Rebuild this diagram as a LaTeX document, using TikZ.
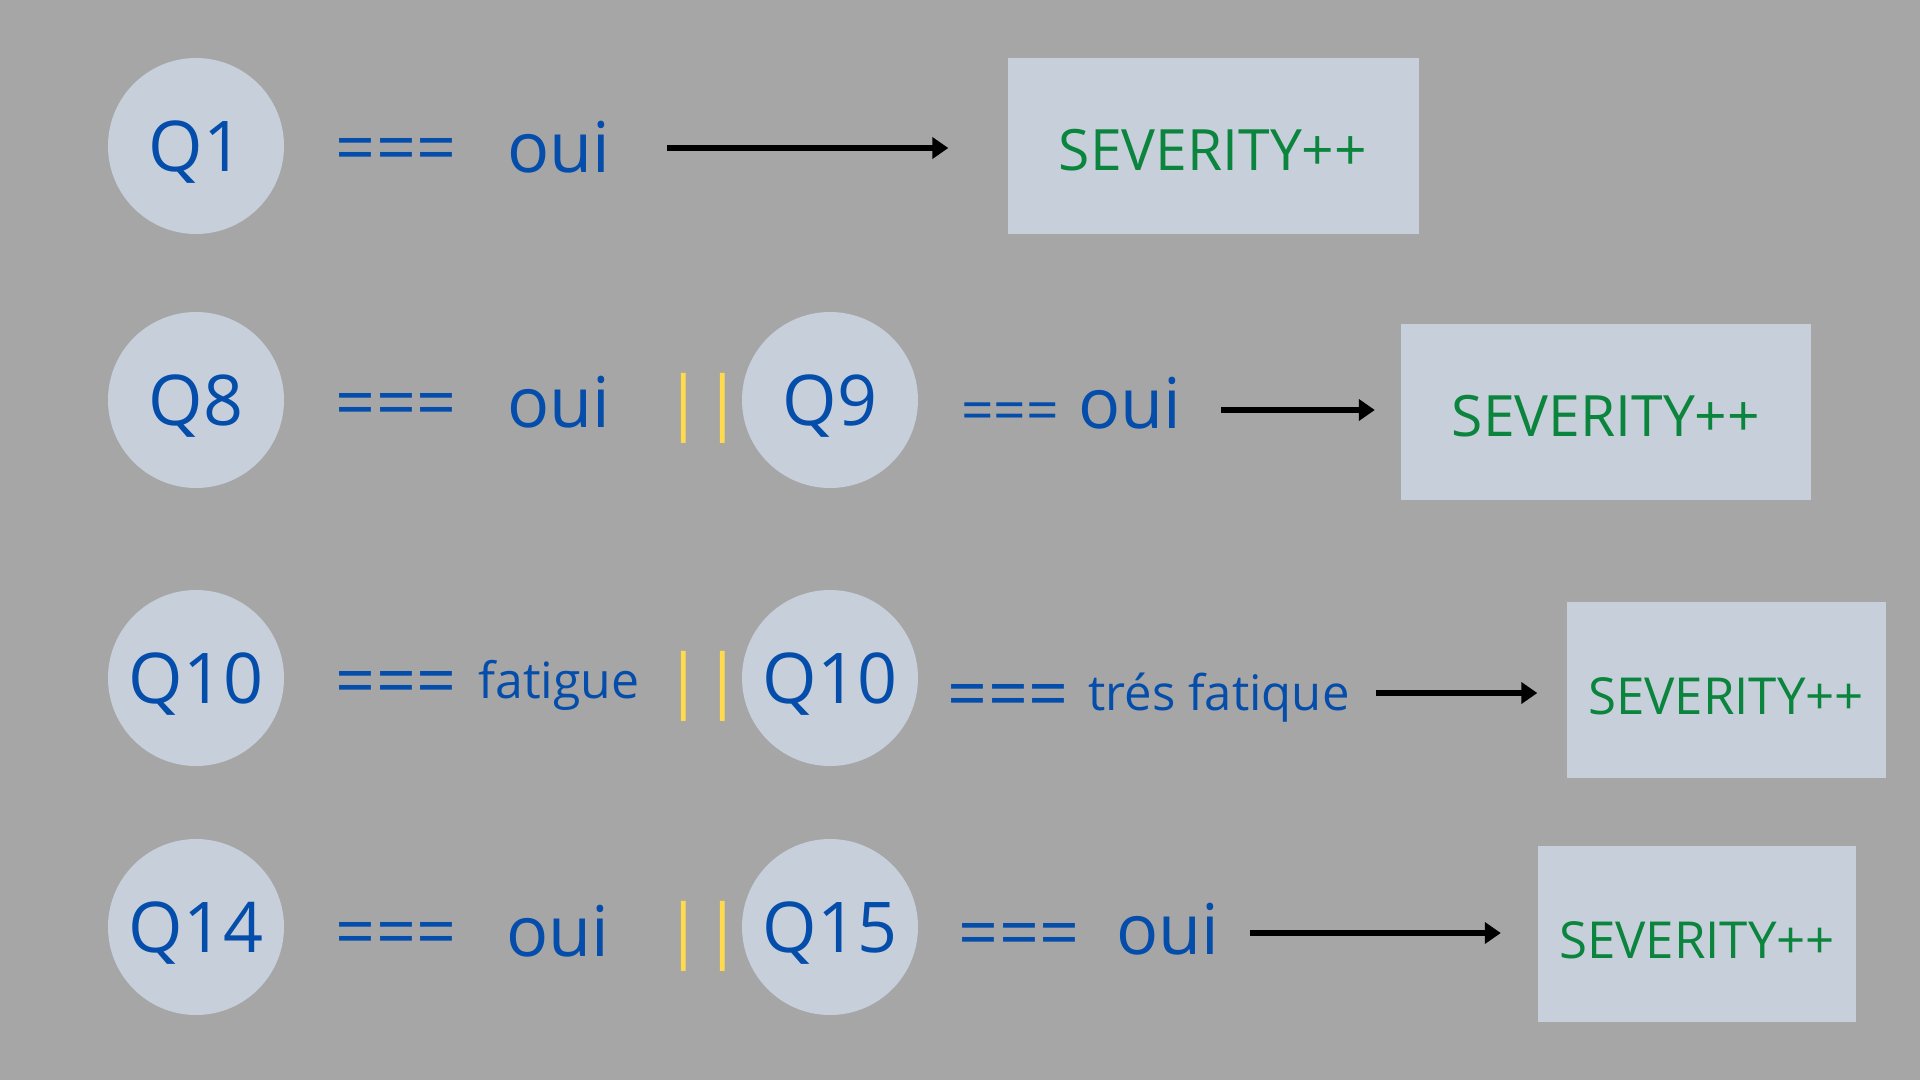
\documentclass[tikz,border=0pt]{standalone}
\usepackage{fontspec}
\setmainfont{Open Sans}
\usetikzlibrary{arrows.meta,positioning}
\usepackage{xcolor}

\definecolor{bggray}{HTML}{A6A6A6}
\definecolor{paleblue}{HTML}{C7D0DA}
\definecolor{qblue}{HTML}{044DAA}
\definecolor{sevgreen}{HTML}{0B843E}
\definecolor{orgold}{HTML}{FFDA4F}

\newcommand{\fbig}{\fontsize{70}{84}\selectfont}
\newcommand{\fsev}{\fontsize{57}{68}\selectfont}
\newcommand{\fsevs}{\fontsize{51}{61}\selectfont}

\begin{document}
\begin{tikzpicture}[
    x=1pt, y=-1pt,
    qcirc/.style={circle, fill=paleblue, minimum size=176pt, inner sep=0pt, text=qblue, font=\fbig, text height=50pt, text depth=0pt},
    eqtxt/.style={anchor=base, inner sep=0pt, text=qblue, font=\fbig},
    answer/.style={anchor=base, inner sep=0pt, text=qblue, font=\fbig},
    orbar/.style={anchor=base, inner sep=0pt, text=orgold, font=\fbig},
    sevbox/.style={rectangle, fill=paleblue, inner sep=0pt, minimum height=176pt, text=sevgreen, text height=48pt, text depth=0pt},
    arrow/.style={-{Triangle[length=16pt,width=21pt]}, line width=5.5pt, black}
]

\fill[bggray] (0,0) rectangle (1920,1080);

% row 1
\node[qcirc] (q1) at (196,146) {Q1};
\node[eqtxt] (eq1) at (396,172) {===};
\node[answer] (oui1) at (559,172) {oui};
\node[sevbox, minimum width=411pt, font=\fsev] (sev1) at (1213,146) {SEVERITY++};
\coordinate (a1) at (667,148);
\draw[arrow, shorten >=59pt] (a1) -- (a1 -| sev1.west);

% row 2
\node[qcirc] (q8) at (196,400) {Q8};
\node[eqtxt] (eq8) at (396,427) {===};
\node[answer] (oui8) at (559,427) {oui};
\node[orbar] (or8) at (703,426) {||};
\node[qcirc] (q9) at (830,400) {Q9};
\node[eqtxt, font=\fontsize{57}{68}\selectfont] (eq9) at (1010,430) {===};
\node[answer] (oui9) at (1130,428) {oui};
\node[sevbox, minimum width=410pt, font=\fsev] (sev2) at (1606,412) {SEVERITY++};
\coordinate (a2) at (1221,410);
\draw[arrow, shorten >=26pt] (a2) -- (a2 -| sev2.west);

% row 3
\node[qcirc] (q10) at (196,678) {Q10};
\node[eqtxt] (eq10) at (396,705) {===};
\node[answer, font=\fontsize{50}{60}\selectfont] (fat10) at (559,698) {fatigue};
\node[orbar] (or10) at (703,704) {||};
\node[qcirc] (q10b) at (830,678) {Q10};
\node[eqtxt] (eq10b) at (1008,718) {===};
\node[answer, font=\fontsize{49}{59}\selectfont] (fat10b) at (1219,710) {trés fatique};
\node[sevbox, minimum width=319pt, font=\fsevs] (sev3) at (1726,690) {SEVERITY++};
\coordinate (a3) at (1376,693);
\draw[arrow, shorten >=29pt] (a3) -- (a3 -| sev3.west);

% row 4
\node[qcirc] (q14) at (196,927) {Q14};
\node[eqtxt] (eq14) at (396,956) {===};
\node[answer] (oui14) at (558,956) {oui};
\node[orbar] (or14) at (703,954) {||};
\node[qcirc] (q15) at (830,927) {Q15};
\node[eqtxt] (eq15) at (1019,957) {===};
\node[answer] (oui15) at (1168,954) {oui};
\node[sevbox, minimum width=318pt, font=\fsevs] (sev4) at (1697,934) {SEVERITY++};
\coordinate (a4) at (1250,933);
\draw[arrow, shorten >=37pt] (a4) -- (a4 -| sev4.west);

\end{tikzpicture}
\end{document}
